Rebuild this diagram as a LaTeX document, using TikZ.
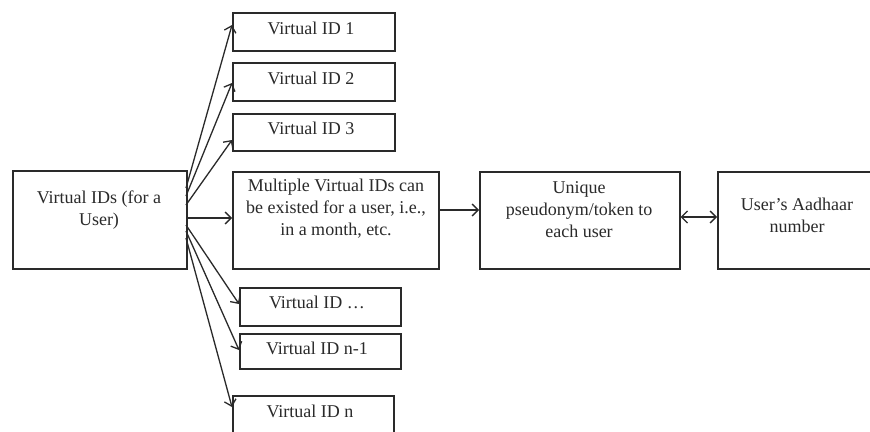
\documentclass[tikz,border=0pt]{standalone}
\usepackage{fontspec}
\setmainfont{Liberation Serif}
\usetikzlibrary{arrows.meta}
\definecolor{ink}{HTML}{2A2A2A}
\tikzset{
  box/.style={draw=ink, line width=1.6pt, fill=white, rectangle, inner sep=0pt, anchor=north west},
  txt/.style={text=ink, inner sep=0pt, align=center, font=\fontsize{18}{21.8}\selectfont},
  conn/.style={draw=ink, line width=1.3pt, -{Straight Barb[length=6pt,width=12pt]}},
  dconn/.style={draw=ink, line width=1.3pt, {Straight Barb[length=6pt,width=12pt]}-{Straight Barb[length=6pt,width=12pt]}}
}
\begin{document}
\begin{tikzpicture}[x=1pt,y=-1pt]
\fill[white] (0,0) rectangle (870,431);
\useasboundingbox (0,0) rectangle (870,431);
\begin{scope}
\clip (0,0) rectangle (870,431);
% boxes
\node[box, minimum width=174pt, minimum height=98pt] (src) at (12,170) {};
\node[box, minimum width=162pt, minimum height=38pt] (v1) at (232,12) {};
\node[box, minimum width=162pt, minimum height=38pt] (v2) at (232,62) {};
\node[box, minimum width=162pt, minimum height=37pt] (v3) at (232,113) {};
\node[box, minimum width=206pt, minimum height=97pt] (mul) at (232,171) {};
\node[box, minimum width=200pt, minimum height=97pt] (uni) at (479,171) {};
\node[box, minimum width=170pt, minimum height=97pt] (aad) at (717,171) {};
\node[box, minimum width=161pt, minimum height=38pt] (vd) at (239,287) {};
\node[box, minimum width=161pt, minimum height=35pt] (vn1) at (239,333) {};
\node[box, minimum width=161pt, minimum height=60pt] (vn) at (232,395) {};
% texts (anchor=base is the baseline of the last line)
\node[txt, anchor=base] (tsrc) at (99,225) {Virtual IDs (for a\\User)};
\node[txt, anchor=base] (tv1) at (311,34) {Virtual ID 1};
\node[txt, anchor=base] (tv2) at (311,84) {Virtual ID 2};
\node[txt, anchor=base] (tv3) at (311,134) {Virtual ID 3};
\node[txt, anchor=base] (tmul) at (336,235) {Multiple Virtual IDs can\\be existed for a user, i.e.,\\in a month, etc.};
\node[txt, anchor=base] (tuni) at (579,237) {Unique\\pseudonym/token to\\each user};
\node[txt, anchor=base] (taad) at (797,232) {User's Aadhaar\\number};
\node[txt, anchor=base] (tvd) at (317,308) {Virtual ID \ldots};
\node[txt, anchor=base] (tvn1) at (317,354) {Virtual ID n-1};
\node[txt, anchor=base] (tvn) at (310,417) {Virtual ID n};
% connector anchors
\coordinate (s1) at (186,188);
\coordinate (s2) at (186,196);
\coordinate (s3) at (186,205);
\coordinate (s4) at (186,225);
\coordinate (s5) at (186,231);
\coordinate (s6) at (186,238);
\draw[conn] (s1) -- (v1.west |- 0,25);
\draw[conn] (s2) -- (v2.west |- 0,83);
\draw[conn] (s3) -- (v3.west |- 0,140);
\draw[conn] (src.east |- 0,218) -- (mul.west |- 0,218);
\draw[conn] (s4) -- (vd.west |- 0,304);
\draw[conn] (s5) -- (vn1.west |- 0,350);
\draw[conn] (s6) -- (vn.west |- 0,407);
\draw[conn] (mul.east |- 0,210) -- (uni.west |- 0,210);
\draw[dconn] (uni.east |- 0,217) -- (aad.west |- 0,217);
\end{scope}
\end{tikzpicture}
\end{document}
